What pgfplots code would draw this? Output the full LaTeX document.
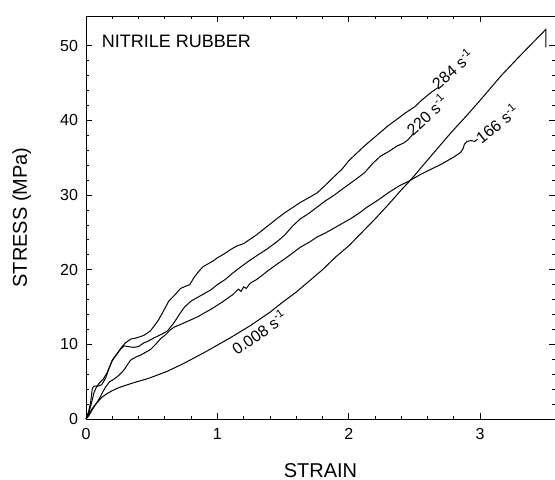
\documentclass[border=0pt]{standalone}
\usepackage{fontspec}
\setmainfont{Liberation Sans}
\usepackage{pgfplots}
\pgfplotsset{compat=1.18}
\begin{document}
\begin{tikzpicture}
\begin{axis}[
    scale only axis,
    width=469pt, height=403pt,
    xmin=0, xmax=3.57, ymin=0, ymax=54,
    xtick={0,1,2,3}, ytick={0,10,...,50},
    minor x tick num=4, minor y tick num=4,
    tick align=inside,
    major tick length=6pt, minor tick length=3pt,
    axis line style={line width=0.9pt},
    every tick/.style={line width=0.8pt, black},
    /pgf/number format/assume math mode=true,
    tick label style={font=\fontsize{16}{19}\selectfont},
    xticklabel style={yshift=-5.5pt},
    yticklabel style={xshift=-4.5pt},
    xlabel={STRAIN}, ylabel={STRESS (MPa)},
    label style={font=\fontsize{20}{24}\selectfont},
    xlabel style={at={(axis description cs:0.5,0)}, anchor=base, yshift=-58pt},
    ylabel style={at={(axis description cs:0,0.5)}, anchor=base, yshift=59pt},
    cycle list={black,line width=1pt,mark=none\\},
    clip=false,
  ]
  % 0.008 s^-1 (quasi-static)
  \addplot coordinates {(0,0) (0.02,0.6) (0.04,1.2) (0.06,1.7) (0.09,2.3) (0.12,2.9)
    (0.16,3.4) (0.2,3.8) (0.25,4.2) (0.3,4.5) (0.37,4.9) (0.45,5.3) (0.5,5.6)
    (0.62,6.4) (0.75,7.5) (0.9,8.9) (1.0,9.9) (1.1,10.9) (1.25,12.5) (1.4,14.3)
    (1.5,15.7) (1.6,17.0) (1.7,18.5) (1.8,20.0) (1.9,21.7) (2.0,23.2) (2.1,25.0)
    (2.2,26.8) (2.3,28.7) (2.4,30.7) (2.47,32.0) (2.6,34.7) (2.78,38.4) (2.9,40.7)
    (3.0,42.7) (3.16,46.0) (3.3,48.6) (3.4,50.4) (3.5,52.2) (3.5,49.8)};
  % 284 s^-1
  \addplot coordinates {(0,0) (0.02,1.0) (0.035,2.2) (0.048,4.1) (0.06,4.4) (0.09,4.4)
    (0.12,4.6) (0.15,5.5) (0.18,7.0) (0.2,7.9) (0.24,8.8) (0.27,9.6) (0.3,10.2)
    (0.34,10.7) (0.39,10.9) (0.44,11.2) (0.49,11.8) (0.52,12.5) (0.55,13.2)
    (0.6,14.8) (0.63,15.8) (0.68,16.7) (0.72,17.5) (0.76,17.8) (0.79,18.0)
    (0.82,18.9) (0.85,19.6) (0.89,20.4) (0.93,20.8) (0.97,21.2) (1.0,21.6)
    (1.05,22.1) (1.1,22.7) (1.15,23.2) (1.2,23.5) (1.25,24.1) (1.3,24.7)
    (1.35,25.4) (1.4,26.1) (1.45,26.8) (1.51,27.6) (1.57,28.3) (1.63,29.0)
    (1.7,29.7) (1.76,30.3) (1.82,31.3) (1.89,32.5) (1.95,33.5) (2.0,34.6)
    (2.06,35.6) (2.12,36.6) (2.18,37.5) (2.24,38.4) (2.3,39.3) (2.37,40.2)
    (2.43,41.0) (2.5,41.8) (2.56,42.8) (2.63,43.8) (2.68,44.4)};
  % 220 s^-1
  \addplot coordinates {(0,0) (0.02,0.8) (0.04,2.0) (0.06,3.5) (0.08,4.3) (0.1,4.8)
    (0.13,5.3) (0.16,6.2) (0.18,7.0) (0.2,7.8) (0.23,8.6) (0.26,9.3) (0.29,9.8)
    (0.32,9.7) (0.36,9.6) (0.4,9.7) (0.44,10.2) (0.47,10.4) (0.51,10.8)
    (0.545,11.1) (0.58,11.4) (0.62,11.8) (0.67,12.9) (0.71,14.0) (0.75,15.0)
    (0.8,15.8) (0.85,16.3) (0.9,16.8) (0.95,17.3) (1.0,18.0) (1.06,18.7)
    (1.12,19.6) (1.18,20.4) (1.25,21.3) (1.31,22.0) (1.38,22.8) (1.45,23.7)
    (1.51,24.6) (1.57,25.8) (1.63,26.8) (1.7,27.6) (1.76,28.4) (1.82,29.2)
    (1.89,30.0) (1.95,30.8) (1.99,31.3) (2.06,32.2) (2.12,33.0) (2.18,34.2)
    (2.24,35.2) (2.3,35.8) (2.37,36.6) (2.42,37.0) (2.45,37.4) (2.49,38.2)};
  % 166 s^-1
  \addplot coordinates {(0,0) (0.02,0.4) (0.04,1.0) (0.06,1.6) (0.09,2.4) (0.11,3.0)
    (0.13,3.7) (0.15,4.3) (0.18,5.0) (0.21,5.3) (0.24,5.7) (0.27,6.2) (0.29,6.6)
    (0.32,7.4) (0.34,7.9) (0.38,8.3) (0.42,8.6) (0.46,9.0) (0.49,9.3) (0.53,10.0)
    (0.57,10.8) (0.6,11.2) (0.64,11.9) (0.67,12.3) (0.71,12.6) (0.75,12.9)
    (0.8,13.3) (0.85,13.7) (0.9,14.2) (0.96,14.8) (1.04,15.7) (1.12,16.7)
    (1.16,17.4) (1.18,17.1) (1.2,17.7) (1.22,17.5) (1.25,18.2) (1.3,18.7)
    (1.38,19.8) (1.45,20.7) (1.5,21.3) (1.57,22.2) (1.63,23.0) (1.7,23.7)
    (1.76,24.4) (1.82,24.9) (1.89,25.6) (1.95,26.2) (2.02,26.9) (2.08,27.6)
    (2.14,28.4) (2.22,29.3) (2.3,30.3) (2.38,31.2) (2.47,32.0) (2.55,32.8)
    (2.63,33.5) (2.7,34.1) (2.75,34.6) (2.8,35.1) (2.85,35.7) (2.87,36.2)
    (2.88,36.8) (2.9,37.2) (2.93,37.3) (2.96,37.2) (2.98,37.5)};
  \node[anchor=north west, inner sep=0pt, font=\fontsize{18}{21}\selectfont]
    at (rel axis cs:0.0335,0.953) {NITRILE RUBBER};
  \begin{scope}[every node/.style={font=\fontsize{16}{19}\selectfont, inner sep=1pt}]
    \node[anchor=south west, rotate=41] at (axis cs:2.68,43.8) {284 s\textsuperscript{-1}};
    \node[anchor=south west, rotate=43] at (axis cs:2.49,37.6) {220 s\textsuperscript{-1}};
    \node[anchor=south west, rotate=38] at (axis cs:3.01,36.6) {166 s\textsuperscript{-1}};
    \node[anchor=south west, rotate=35, inner sep=0pt] at (axis cs:1.15,8.4) {0.008 s\textsuperscript{-1}};
  \end{scope}
\end{axis}
\pgfresetboundingbox
\path[use as bounding box] (current axis.south west) ++(-86pt,-61pt) rectangle (current axis.north east) ++(0pt,16pt);
\end{tikzpicture}
\end{document}
